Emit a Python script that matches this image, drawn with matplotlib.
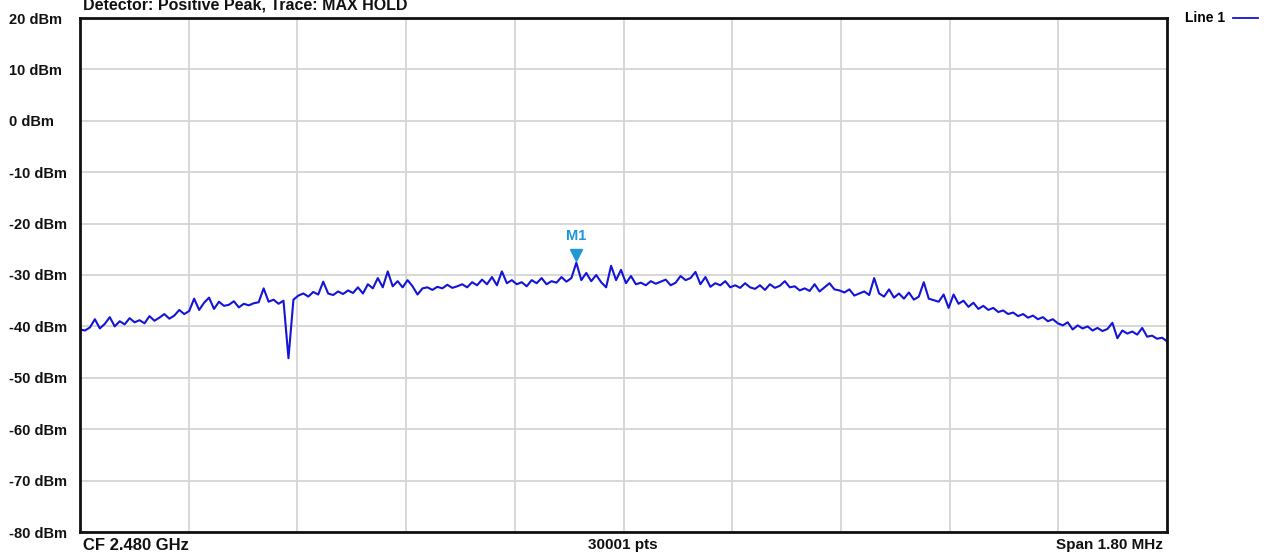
"""Spectrum analyzer trace: positive peak / max hold over a 1.8 MHz span at 2.480 GHz."""
import numpy as np
import matplotlib
matplotlib.use("Agg")
import matplotlib.pyplot as plt
from matplotlib.lines import Line2D

BLUE, MARK, GRID, INK = "#1414d8", "#1f97d6", "#d4d4d4", "#111111"

# trace levels (dBm), left to right, one grid division per row
level_dbm = [
    -40.6, -40.8, -40.2, -38.6, -40.4, -39.5, -38.2, -40.0, -39.0, -39.6, -38.4, -39.2, -38.8, -39.4, -38.0, -38.9, -38.3, -37.6, -38.5, -37.9, -36.8, -37.6,
    -37.0, -34.6, -36.8, -35.4, -34.4, -36.6, -35.2, -36.0, -35.8, -35.1, -36.3, -35.6, -35.9, -35.5, -35.3, -32.6, -35.2, -34.8, -35.6, -35.0, -46.2, -34.8,
    -34.0, -33.6, -34.2, -33.3, -33.8, -31.3, -33.6, -33.9, -33.2, -33.7, -33.0, -33.5, -32.4, -33.6, -31.8, -32.6, -30.6, -32.4, -29.3, -32.2, -31.2, -32.4,
    -31.0, -32.2, -33.8, -32.6, -32.4, -32.9, -32.3, -32.6, -31.9, -32.5, -32.2, -31.8, -32.4, -31.4, -32.0, -30.9, -31.8, -30.4, -32.0, -29.3, -31.6, -31.0,
    -31.8, -31.4, -32.2, -31.0, -31.6, -30.6, -31.8, -31.2, -31.5, -30.4, -31.3, -30.6, -27.6, -31.0, -29.6, -31.2, -30.0, -31.4, -32.4, -28.2, -31.0, -29.0,
    -31.6, -30.2, -31.8, -31.5, -32.0, -31.2, -31.7, -31.3, -30.9, -32.0, -31.5, -30.2, -31.0, -30.6, -29.4, -31.8, -30.4, -32.3, -31.6, -32.0, -31.2, -32.4,
    -32.0, -32.5, -31.6, -32.4, -32.7, -32.0, -32.9, -31.8, -32.5, -32.1, -31.2, -32.4, -32.2, -33.0, -32.6, -33.1, -31.8, -33.2, -32.4, -31.6, -32.8, -33.0,
    -33.4, -32.8, -34.0, -33.6, -33.2, -33.9, -30.6, -33.6, -34.2, -32.8, -34.4, -33.6, -34.6, -33.4, -34.8, -34.2, -31.4, -34.6, -34.9, -35.2, -33.8, -36.4,
    -33.8, -35.6, -35.0, -36.2, -35.4, -36.6, -36.0, -36.8, -36.4, -37.2, -36.9, -37.6, -37.3, -38.0, -37.6, -38.3, -37.9, -38.6, -38.2, -39.0, -38.6, -39.4,
    -39.8, -39.2, -40.6, -39.8, -40.4, -40.0, -40.8, -40.3, -40.9, -40.5, -39.3, -42.3, -40.8, -41.4, -41.0, -41.6, -40.3, -42.0, -41.8, -42.4, -42.2, -42.9,
]
center_mhz, span_mhz = 2480.0, 1.80
y_ticks = [20, 10, 0, -10, -20, -30, -40, -50, -60, -70, -80]
y_labels = [f"{v} dBm" for v in y_ticks]
marker_name = "M1"

freq = np.linspace(center_mhz - span_mhz / 2, center_mhz + span_mhz / 2, len(level_dbm))
level = np.array(level_dbm)
pk = int(np.argmax(level))

plt.rcParams.update({"font.family": ["Liberation Sans", "DejaVu Sans"], "font.weight": "bold"})
fig = plt.figure(figsize=(12.75, 5.54), dpi=100)
ax = fig.add_axes([80 / 1275, 22 / 554, 1087 / 1275, 514 / 554])

ax.plot(freq, level, color=BLUE, lw=1.5, label="Line 1")
ax.set_xlim(freq[0], freq[-1])
ax.set_ylim(-80, 20)

# vertical divisions: 10 across the span
ax.set_xticks(np.linspace(freq[0], freq[-1], 11))
ax.set_xticklabels([])
ax.set_yticks(y_ticks)
ax.set_yticklabels(y_labels, ha="left", fontsize=10.5, color=INK)
ax.tick_params(axis="both", length=0)
ax.tick_params(axis="y", pad=51)
ax.grid(True, color=GRID, lw=1.3)
for s in ax.spines.values():
    s.set_linewidth(2)
    s.set_color(INK)

# marker M1 on the peak
ax.plot(freq[pk], level[pk] + 1.5, marker="v", ms=8, color=MARK, ls="none", clip_on=False)
ax.text(freq[pk], level[pk] + 3.8, marker_name, color=MARK, fontsize=10.5, ha="center", va="bottom")

ax.legend(handles=[Line2D([], [], color=BLUE, lw=1.3)], labels=["Line 1"], loc="upper left",
          bbox_to_anchor=(1.005, 1.037), markerfirst=False, frameon=False, fontsize=10,
          handlelength=1.8, handletextpad=0.6)

fig.text(83 / 1275, 1 - 5 / 554, "Detector: Positive Peak, Trace: MAX HOLD", fontsize=11.5, va="center", color=INK)
fig.text(83 / 1275, 1 - 545 / 554, f"CF {center_mhz / 1000:.3f} GHz", fontsize=12, va="center", color=INK)
fig.text(623 / 1275, 1 - 545 / 554, "30001 pts", fontsize=11, va="center", ha="center", color=INK)
fig.text(1163 / 1275, 1 - 545 / 554, f"Span {span_mhz:.2f} MHz", fontsize=11, va="center", ha="right", color=INK)

fig.savefig("out.png", dpi=100, facecolor="white")
